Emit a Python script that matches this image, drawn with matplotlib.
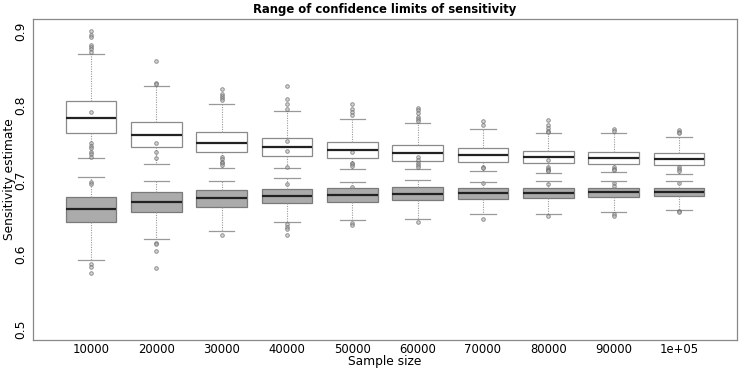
import matplotlib
matplotlib.use("Agg")
import matplotlib.pyplot as plt

plt.rcParams['font.family'] = ['DejaVu Sans']

labels = ["10000", "20000", "30000", "40000", "50000", "60000", "70000", "80000", "90000", "1e+05"]

# upper confidence limit (white boxes)
up_whislo = [0.729, 0.7219, 0.7161, 0.7157, 0.7143, 0.7143, 0.7117, 0.7094, 0.7107, 0.7085]
up_q1 = [0.7627, 0.7443, 0.7376, 0.7326, 0.729, 0.7255, 0.7242, 0.7228, 0.7215, 0.7201]
up_med = [0.783, 0.7608, 0.750, 0.7447, 0.7398, 0.7362, 0.7336, 0.7309, 0.7295, 0.7278]
up_q3 = [0.8065, 0.7774, 0.7649, 0.7568, 0.7514, 0.747, 0.7425, 0.7389, 0.738, 0.7358]
up_whishi = [0.8695, 0.8266, 0.8016, 0.793, 0.7819, 0.7769, 0.7685, 0.7635, 0.7627, 0.7581]
up_fliers = [
    [0.900, 0.895, 0.892, 0.881, 0.879, 0.876, 0.872, 0.697, 0.695],
    [0.860, 0.8306, 0.829],
    [0.8217, 0.8154, 0.8128, 0.8096, 0.8074],
    [0.8262, 0.8083, 0.8016, 0.7949, 0.694],
    [0.802, 0.795, 0.791, 0.787, 0.6906],
    [0.797, 0.794, 0.790, 0.785, 0.7815, 0.7796],
    [0.7796, 0.7738, 0.6955],
    [0.7805, 0.7738, 0.7694, 0.7662, 0.764, 0.6942],
    [0.7685, 0.7658, 0.6955, 0.6924],
    [0.7671, 0.7648, 0.7627, 0.6962],
]

# lower confidence limit (grey boxes)
lo_whislo = [0.5926, 0.620, 0.632, 0.644, 0.6463, 0.648, 0.6548, 0.6544, 0.6575, 0.6601]
lo_q1 = [0.6432, 0.6566, 0.6642, 0.669, 0.6709, 0.6732, 0.6745, 0.6758, 0.6772, 0.6781]
lo_med = [0.6606, 0.670, 0.6754, 0.6785, 0.6799, 0.6816, 0.6821, 0.6825, 0.6835, 0.6839]
lo_q3 = [0.6776, 0.6835, 0.6866, 0.688, 0.6888, 0.6902, 0.6897, 0.6888, 0.6897, 0.6897]
lo_whishi = [0.7044, 0.6987, 0.6982, 0.703, 0.6969, 0.7004, 0.6973, 0.699, 0.6987, 0.6987]
lo_fliers = [
    [0.791, 0.749, 0.746, 0.743, 0.738, 0.735, 0.731, 0.5868, 0.5836, 0.5748],
    [0.749, 0.738, 0.730, 0.6159, 0.614, 0.604, 0.5815],
    [0.7305, 0.7278, 0.7246, 0.7224, 0.7205, 0.6262],
    [0.7523, 0.7389, 0.717, 0.6405, 0.6373, 0.6338, 0.6262],
    [0.7376, 0.7232, 0.721, 0.7188, 0.6419, 0.6392],
    [0.7305, 0.7268, 0.7232, 0.720, 0.7178, 0.6436],
    [0.7179, 0.7157, 0.648],
    [0.7268, 0.7175, 0.715, 0.7135, 0.712, 0.6517],
    [0.7175, 0.715, 0.7135, 0.6544, 0.6517],
    [0.7175, 0.715, 0.712, 0.6584, 0.657],
]


def make_stats(wlo, q1, med, q3, whi, fl):
    return [dict(whislo=a, q1=b, med=c, q3=d, whishi=e, fliers=f, label=l)
            for a, b, c, d, e, f, l in zip(wlo, q1, med, q3, whi, fl, labels)]


fig = plt.figure(figsize=(7.43, 3.68), dpi=100)
ax = fig.add_axes([33 / 743, 28 / 368, 704 / 743, 321 / 368])

pos = list(range(1, len(labels) + 1))
flier = dict(marker='o', markersize=2.6, markerfacecolor='#bbbbbb',
             markeredgecolor='#555555', markeredgewidth=0.7, alpha=0.6, linestyle='none')
whisk = dict(color='#999999', linestyle=(0, (1, 1.2)), linewidth=0.8)
caps = dict(color='#999999', linewidth=0.9)
med = dict(color='#222222', linewidth=1.6)

ax.bxp(make_stats(up_whislo, up_q1, up_med, up_q3, up_whishi, up_fliers), positions=pos,
       widths=0.78, patch_artist=True, showfliers=True,
       boxprops=dict(facecolor='none', edgecolor='#8a8a8a', linewidth=0.9),
       medianprops=med, whiskerprops=whisk, capprops=caps, flierprops=flier,
       capwidths=0.39)
ax.bxp(make_stats(lo_whislo, lo_q1, lo_med, lo_q3, lo_whishi, lo_fliers), positions=pos,
       widths=0.78, patch_artist=True, showfliers=True,
       boxprops=dict(facecolor='#ababab', edgecolor='#7a7a7a', linewidth=0.9),
       medianprops=med, whiskerprops=whisk, capprops=caps, flierprops=flier,
       capwidths=0.39)

ax.set_xlim(0.112, 10.888)
ax.set_ylim(0.485, 0.916)
ax.set_yticks([0.5, 0.6, 0.7, 0.8, 0.9])
ax.set_yticklabels(["0.5", "0.6", "0.7", "0.8", "0.9"], rotation=90, va='center', fontsize=8.8)
ax.set_xticks(pos)
ax.set_xticklabels(labels, fontsize=8.4)
ax.tick_params(axis='both', length=0)
ax.tick_params(axis='y', pad=4)
ax.tick_params(axis='x', pad=2)
for s in ax.spines.values():
    s.set_color('#888888')
    s.set_linewidth(0.9)

ax.set_title("Range of confidence limits of sensitivity", fontsize=8.4, fontweight='bold', pad=4)
ax.set_xlabel("Sample size", fontsize=8.8)
ax.xaxis.set_label_coords(0.5, -15 / 321)
ax.set_ylabel("Sensitivity estimate", fontsize=8.8)
ax.yaxis.set_label_coords(-17 / 704, 0.5)

fig.savefig("out.png", dpi=100)
